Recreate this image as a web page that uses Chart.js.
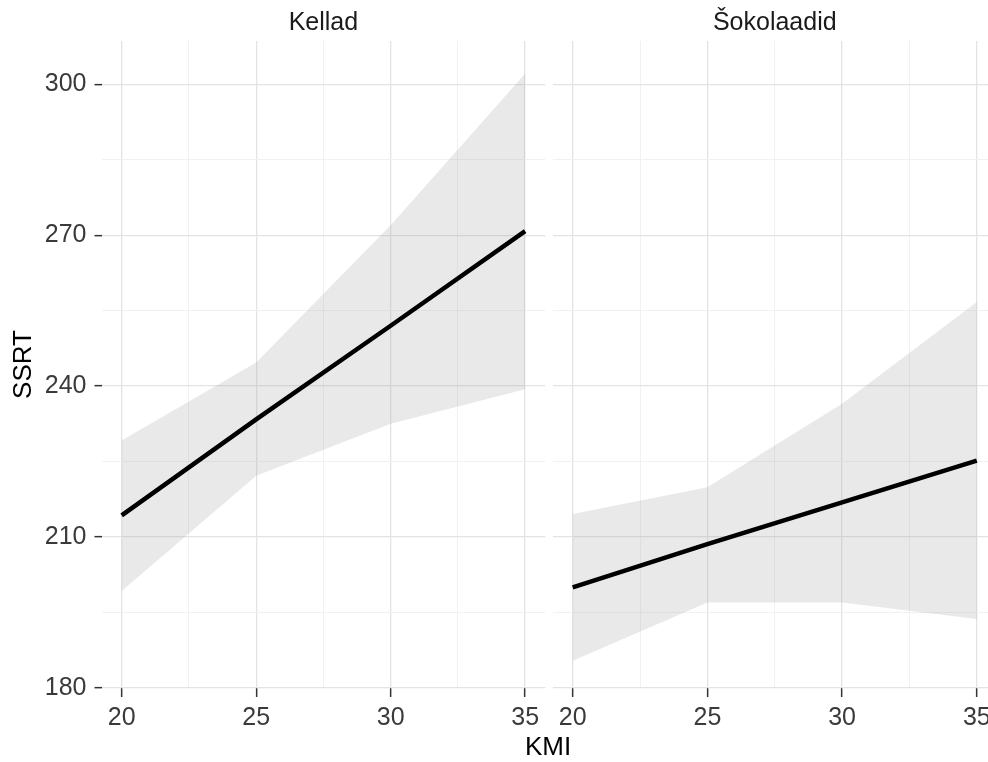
<!DOCTYPE html>
<html><head><meta charset="utf-8">
<script src="https://cdn.jsdelivr.net/npm/chart.js@4.4.1/dist/chart.umd.min.js"></script>
<style>
html,body{margin:0;padding:0;background:#fff;overflow:hidden;width:988px;height:762px}
#wrap{position:relative;width:988px;height:762px;overflow:hidden;background:#fff}
canvas{position:absolute;top:0}
#c1{left:0}
#c2{left:540px}
</style></head><body>
<div id="wrap"><canvas id="c1" width="600" height="762"></canvas><canvas id="c2" width="470" height="762"></canvas></div>
<script>
// ---- data ----
const panels = ['Kellad', 'Šokolaadid'];
const kmi = [20, 25, 30, 35];
const kelladFit = [214.3, 233.4, 252.0, 270.8];
const kelladLower = [199.3, 222.2, 232.5, 239.4];
const kelladUpper = [229.2, 244.7, 272.0, 302.1];
const sokoFit = [200.0, 208.6, 216.9, 225.2];
const sokoLower = [185.4, 197.0, 197.0, 193.7];
const sokoUpper = [214.6, 219.9, 236.5, 256.7];
const xTicks = [20, 25, 30, 35];
const yTicks = [180, 210, 240, 270, 300];
const xTitle = 'KMI';
const yTitle = 'SSRT';

// ---- style ----
const FONT = "'Liberation Sans', Arial, sans-serif";
const MAJOR = '#e3e3e3', MINOR = '#f1f1f1';
const withMinor = arr => { const out = []; arr.forEach((v, i) => { out.push(v); if (i < arr.length - 1) out.push((v + arr[i + 1]) / 2); }); return out; };
const xAll = withMinor(xTicks), yAll = withMinor(yTicks);
const pts = (ys) => kmi.map((x, i) => ({ x, y: ys[i] }));

const labelPlugin = {
  id: 'extraLabel',
  afterDraw(chart, args, o) {
    if (!o || !o.text) return;
    const c = chart.ctx; c.save();
    c.font = o.size + 'px ' + FONT; c.fillStyle = o.color || '#000';
    c.textAlign = 'center'; c.textBaseline = 'middle';
    c.fillText(o.text, o.x, o.y); c.restore();
  }
};

function makeChart(id, title, fit, lower, upper, cfg) {
  const majorX = v => xTicks.includes(v), majorY = v => yTicks.includes(v);
  return new Chart(document.getElementById(id), {
    type: 'line',
    data: {
      datasets: [
        { data: pts(fit), borderColor: '#000', borderWidth: 4.5, pointRadius: 0, fill: false, order: 0 },
        { data: pts(lower), borderWidth: 0, borderColor: 'rgba(0,0,0,0)', pointRadius: 0, fill: false, order: 2 },
        { data: pts(upper), borderWidth: 0, borderColor: 'rgba(0,0,0,0)', pointRadius: 0, fill: '-1', backgroundColor: 'rgba(153,153,153,0.22)', order: 1 }
      ]
    },
    options: {
      responsive: false, animation: false, devicePixelRatio: 1,
      layout: { padding: { left: cfg.padLeft, right: cfg.padRight, top: 0, bottom: 0 } },
      plugins: {
        legend: { display: false }, tooltip: { enabled: false },
        title: { display: true, text: title, fullSize: false, color: '#1a1a1a', font: { family: FONT, size: 25, weight: 'normal' }, padding: { top: 8, bottom: 3 } },
        extraLabel: cfg.extra || {}
      },
      scales: {
        x: {
          type: 'linear', min: 19.25, max: 35.75,
          afterBuildTicks: s => { s.ticks = xAll.map(v => ({ value: v })); },
          afterFit: s => { s.height = 74; },
          ticks: { autoSkip: false, maxRotation: 0, minRotation: 0, padding: 6, color: '#3a3a3a', font: { family: FONT, size: 25 },
                   callback: v => majorX(v) ? String(v) : '' },
          grid: { color: c => majorX(c.tick.value) ? MAJOR : MINOR, lineWidth: c => majorX(c.tick.value) ? 1.3 : 1,
                  tickLength: 9, tickWidth: 1.5, tickColor: c => majorX(c.tick.value) ? '#333' : 'rgba(0,0,0,0)' },
          border: { display: false }
        },
        y: {
          type: 'linear', min: 180, max: 308.6,
          afterBuildTicks: s => { s.ticks = yAll.map(v => ({ value: v })); },
          afterFit: s => { s.width = cfg.showY ? 101.5 : 0; },
          ticks: { display: cfg.showY, autoSkip: false, padding: 8, color: '#3a3a3a', font: { family: FONT, size: 25 },
                   callback: v => majorY(v) ? String(v) : '' },
          grid: { color: c => majorY(c.tick.value) ? MAJOR : MINOR, lineWidth: c => majorY(c.tick.value) ? 1.3 : 1,
                  drawTicks: cfg.showY, tickLength: 7, tickWidth: 1.5, tickColor: c => majorY(c.tick.value) ? '#333' : 'rgba(0,0,0,0)' },
          border: { display: false },
          title: { display: cfg.showY, text: yTitle, color: '#000', font: { family: FONT, size: 26 }, padding: { top: 8, bottom: 0 } }
        }
      }
    },
    plugins: [labelPlugin]
  });
}

makeChart('c1', panels[0], kelladFit, kelladLower, kelladUpper,
  { showY: true, padLeft: 0, padRight: 54.7, extra: { text: xTitle, x: 548, y: 748, size: 26, color: '#000' } });
makeChart('c2', panels[1], sokoFit, sokoLower, sokoUpper,
  { showY: false, padLeft: 12.5, padRight: 13 });
</script>
</body></html>
